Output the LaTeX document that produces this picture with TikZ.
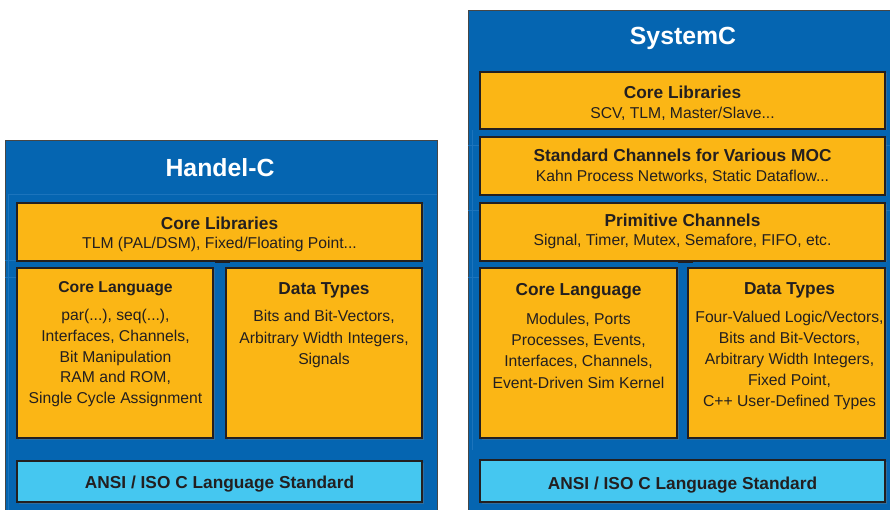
\documentclass[tikz,border=0pt]{standalone}
\usepackage{fontspec}
\setmainfont{Liberation Sans}
\usetikzlibrary{shadows}

\definecolor{panelblue}{RGB}{5,101,177}
\definecolor{panelline}{RGB}{28,116,188}
\definecolor{layerorange}{RGB}{251,182,21}
\definecolor{baseblue}{RGB}{69,199,240}
\definecolor{inkdark}{RGB}{35,31,32}
\definecolor{edgegrey}{RGB}{70,70,70}

\tikzset{
  panel/.style={draw=edgegrey, line width=0.8pt, fill=panelblue},
  faint/.style={draw=panelline, line width=0.6pt},
  layer/.style={draw=inkdark, line width=1.1pt, fill=layerorange, inner sep=0pt,
    anchor=north west, outer sep=0pt,
    drop shadow={shadow xshift=1.5pt, shadow yshift=-1.5pt, opacity=0.35}},
  basebox/.style={layer, fill=baseblue},
  tab/.style={fill=inkdark, draw=none, inner sep=0pt, anchor=north west,
    minimum width=15pt, minimum height=3pt},
  title/.style={anchor=base, text=white, inner sep=0pt,
    font=\fontsize{24.8}{28}\selectfont\bfseries},
  head/.style={anchor=base, text=inkdark, inner sep=0pt,
    font=\fontsize{17.3}{20}\selectfont\bfseries},
  subhead/.style={anchor=base, text=inkdark, inner sep=0pt,
    font=\fontsize{15.7}{20}\selectfont\bfseries},
  body/.style={anchor=base, text=inkdark, inner sep=0pt,
    font=\fontsize{15.7}{20}\selectfont},
}

\begin{document}
\begin{tikzpicture}[x=1pt, y=-1pt]
\useasboundingbox (0,0) rectangle (890,510);
\clip (0,0) rectangle (890,510);

% ---------------- Handel-C stack ----------------
\node[panel, anchor=north west, inner sep=0pt, minimum width=432pt, minimum height=380pt] (hpanel) at (5,140) {};
\draw[faint] (8,194) -- (437,194);
\draw[faint] (8,194) -- (8,510);
\draw[faint] (5,277) -- (17,277);
\draw[faint] (5,260) -- (17,260);

\node[title] (htitle) at (220,177) {Handel-C};

\node[layer, minimum width=405pt, minimum height=58pt] (hlib) at (17,203) {};
\node[head] (hlibH) at (219.5,230) {Core Libraries};
\node[body] (hlibB) at (219.5,249) {TLM (PAL/DSM), Fixed/Floating Point...};

\node[tab] (htab) at (215,260) {};

\node[layer, minimum width=196pt, minimum height=170pt] (hlang) at (17,268) {};
\node[subhead] (hlangH) at (115.5,292) {Core Language};
\node[body] (hl1) at (115.5,320.7) {par(...), seq(...),};
\node[body] (hl2) at (115.5,341.4) {Interfaces, Channels,};
\node[body] (hl3) at (115.5,362.1) {Bit Manipulation};
\node[body] (hl4) at (115.5,382.8) {RAM and ROM,};
\node[body] (hl5) at (115.5,403.5) {Single Cycle Assignment};

\node[layer, minimum width=196pt, minimum height=170pt] (htypes) at (226,268) {};
\node[head] (htypesH) at (324,294) {Data Types};
\node[body] (ht1) at (324,321.7) {Bits and Bit-Vectors,};
\node[body] (ht2) at (324,343) {Arbitrary Width Integers,};
\node[body] (ht3) at (324,364.3) {Signals};

\node[basebox, minimum width=405pt, minimum height=41pt] (hansi) at (17,461) {};
\node[head] (hansiT) at (219.5,488.3) {ANSI / ISO C Language Standard};

% ---------------- SystemC stack ----------------
\node[panel, anchor=north west, inner sep=0pt, minimum width=440pt, minimum height=520pt] (spanel) at (468,10) {};
\draw[faint] (472,130) -- (472,450);
\draw[faint] (468,145) -- (480,145);
\draw[faint] (885,145) -- (890,145);
\draw[faint] (468,210) -- (480,210);
\draw[faint] (885,210) -- (890,210);
\draw[faint] (468,277) -- (480,277);

\node[title] (stitle) at (683,45) {SystemC};

\node[layer, minimum width=405pt, minimum height=57pt] (slib) at (480,72) {};
\node[head] (slibH) at (682.5,98.3) {Core Libraries};
\node[body] (slibB) at (682.5,118.3) {SCV, TLM, Master/Slave...};

\node[layer, minimum width=405pt, minimum height=58pt] (schan) at (480,137) {};
\node[head] (schanH) at (682.5,161.7) {Standard Channels for Various MOC};
\node[body] (schanB) at (682.5,181.7) {Kahn Process Networks, Static Dataflow...};

\node[layer, minimum width=405pt, minimum height=58pt] (sprim) at (480,203) {};
\node[head] (sprimH) at (682.5,226.7) {Primitive Channels};
\node[body] (sprimB) at (682.5,246) {Signal, Timer, Mutex, Semafore, FIFO, etc.};

\node[tab] (stab) at (678,260) {};

\node[layer, minimum width=197pt, minimum height=170pt] (slang) at (480,268) {};
\node[head] (slangH) at (578.5,295.7) {Core Language};
\node[body] (sl1) at (578.5,324) {Modules, Ports};
\node[body] (sl2) at (578.5,345.2) {Processes, Events,};
\node[body] (sl3) at (578.5,366.4) {Interfaces, Channels,};
\node[body] (sl4) at (578.5,388) {Event-Driven Sim Kernel};

\node[layer, minimum width=197pt, minimum height=170pt] (stypes) at (688,268) {};
\node[head] (stypesH) at (789.5,294) {Data Types};
\node[body] (st1) at (789.5,322.3) {Four-Valued Logic/Vectors,};
\node[body] (st2) at (789.5,343.3) {Bits and Bit-Vectors,};
\node[body] (st3) at (789.5,364.6) {Arbitrary Width Integers,};
\node[body] (st4) at (789.5,385.8) {Fixed Point,};
\node[body] (st5) at (789.5,406.7) {C++ User-Defined Types};

\node[basebox, minimum width=405pt, minimum height=42pt] (sansi) at (480,460) {};
\node[head] (sansiT) at (682.5,489) {ANSI / ISO C Language Standard};
\end{tikzpicture}
\end{document}
